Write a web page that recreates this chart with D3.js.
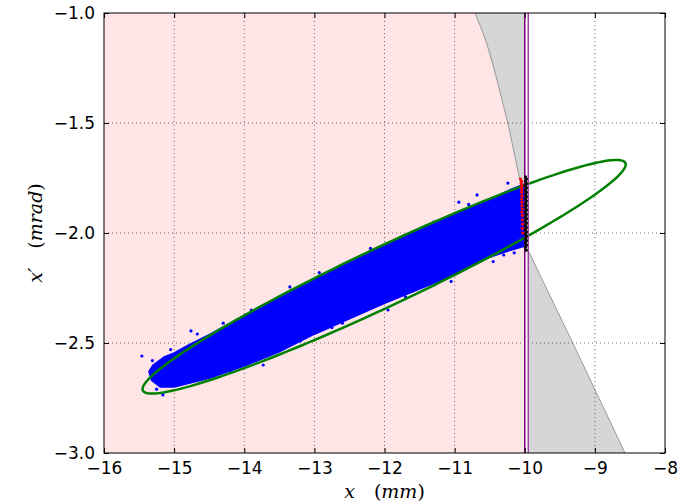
<!DOCTYPE html>
<html>
<head>
<meta charset="utf-8">
<script src="https://cdn.jsdelivr.net/npm/d3@7/dist/d3.min.js"></script>
<style>
  body { margin: 0; background: #fff; }
  text { font-family: "DejaVu Sans", sans-serif; }
</style>
</head>
<body>
<div id="chart"></div>
<script>
// axis ticks
const xTicks = [-16, -15, -14, -13, -12, -11, -10, -9, -8];
const yTicks = [-3.0, -2.5, -2.0, -1.5, -1.0];

// septum wires (mm)
const septumEdges = [-10.0, -9.95];

// outline of the dense beam cloud (x mm, x' mrad)
const cloudOutline = [
  [-15.30, -2.600], [-15.15, -2.565], [-15.00, -2.545], [-14.80, -2.510], [-14.50, -2.462],
  [-14.00, -2.375], [-13.50, -2.292], [-13.00, -2.212], [-12.50, -2.132], [-12.00, -2.057],
  [-11.50, -1.982], [-11.00, -1.912], [-10.50, -1.847], [-10.20, -1.802], [-10.01, -1.778],
  [-10.01, -2.060], [-10.20, -2.078], [-10.50, -2.110], [-11.00, -2.190], [-11.50, -2.255],
  [-12.00, -2.320], [-12.50, -2.390], [-13.00, -2.460], [-13.50, -2.540], [-14.00, -2.605],
  [-14.50, -2.660], [-15.00, -2.700], [-15.20, -2.700], [-15.32, -2.670], [-15.36, -2.630]
];

// stray particles outside the dense cloud
const outliers = [
  [-15.46, -2.559], [-15.31, -2.58], [-14.76, -2.445], [-14.67, -2.459], [-15.16, -2.736],
  [-13.35, -2.245], [-12.93, -2.18], [-11.95, -2.35], [-10.24, -1.773], [-10.68, -1.827],
  [-10.94, -1.86], [-13.73, -2.60], [-11.05, -2.22], [-10.45, -2.13], [-12.6, -2.41],
  [-14.3, -2.41], [-13.9, -2.35], [-12.2, -2.07], [-11.3, -1.95], [-10.8, -1.87],
  [-14.2, -2.63], [-13.2, -2.49], [-11.7, -2.29], [-10.3, -2.10], [-10.15, -2.09],
  [-15.25, -2.71], [-15.05, -2.53], [-12.75, -2.43]
];

// particles scattered by the septum (red) and absorbed in it (black)
const lostRed = [
  [-10.06, -1.755], [-10.045, -1.765], [-10.05, -1.775], [-10.04, -1.785], [-10.045, -1.795],
  [-10.04, -1.805], [-10.045, -1.815], [-10.04, -1.83], [-10.045, -1.845], [-10.04, -1.86],
  [-10.04, -1.875], [-10.035, -1.89], [-10.04, -1.905], [-10.035, -1.92], [-10.035, -1.94],
  [-10.03, -1.96], [-10.035, -1.98], [-10.03, -2.0]
];
const lostBlack = [
  [-9.99, -1.745], [-9.975, -1.755], [-9.99, -1.765], [-9.975, -1.775], [-9.99, -1.785],
  [-9.975, -1.795], [-9.99, -1.805], [-9.975, -1.815], [-9.99, -1.825], [-9.975, -1.835],
  [-9.99, -1.845], [-9.975, -1.855], [-9.99, -1.865], [-9.975, -1.875], [-9.99, -1.885],
  [-9.975, -1.895], [-9.99, -1.905], [-9.975, -1.915], [-9.99, -1.925], [-9.975, -1.935],
  [-9.99, -1.945], [-9.975, -1.955], [-9.99, -1.965], [-9.975, -1.975], [-9.99, -1.985],
  [-9.975, -1.995], [-9.99, -2.005], [-9.975, -2.015], [-9.99, -2.025], [-9.975, -2.035],
  [-9.99, -2.045], [-9.975, -2.055], [-9.99, -2.065], [-9.98, -2.078]
];

// acceptance boundary (grey shadow) above and below the septum crossing
const shadowUpper = [
  [-10.71, -1.0], [-10.595, -1.091], [-10.324, -1.395], [-10.21, -1.545],
  [-10.11, -1.70], [-10.068, -1.76], [-10.0, -2.03]
];
const shadowLower = [
  [-9.954, -2.077], [-9.30, -2.51], [-8.57, -3.0]
];

// green emittance ellipse: centre, half-extent in x and x', skew phase
const ellipseCentre = [-12.005, -2.199];
const ellipseHalf = [3.445, 0.531];
const ellipseSkew = 0.28;

let margin = { top: 13, right: 27, bottom: 51, left: 104 },
    width = 692 - margin.left - margin.right,
    height = 504 - margin.top - margin.bottom;

let svg = d3.select("#chart").append("svg")
    .attr("width", 692)
    .attr("height", 504)
    .append("g")
    .attr("transform", "translate(" + margin.left + "," + margin.top + ")");

let xScale = d3.scaleLinear().domain([-16, -8]).range([0, width]);
let yScale = d3.scaleLinear().domain([-3, -1]).range([height, 0]);

svg.append("defs").append("clipPath").attr("id", "plotclip")
    .append("rect").attr("width", width).attr("height", height);

let plot = svg.append("g").attr("clip-path", "url(#plotclip)");

// pink region left of the septum
plot.append("rect")
    .attr("x", 0).attr("y", 0)
    .attr("width", xScale(septumEdges[0]))
    .attr("height", height)
    .attr("fill", "#ffe5e5");

// grey shadows
let line = d3.line().x(d => xScale(d[0])).y(d => yScale(d[1]));
let upperPoly = shadowUpper.concat([[septumEdges[0], shadowUpper[shadowUpper.length - 1][1]], [septumEdges[0], -1.0]]);
let lowerPoly = shadowLower.concat([[septumEdges[1], -3.0]]);
[upperPoly, lowerPoly].forEach(p => {
    plot.append("path").attr("d", line(p) + "Z").attr("fill", "#d6d6d6").attr("stroke", "none");
});
let curve = d3.line().x(d => xScale(d[0])).y(d => yScale(d[1])).curve(d3.curveMonotoneY);
[shadowUpper, shadowLower].forEach(p => {
    plot.append("path").attr("d", curve(p)).attr("fill", "none")
        .attr("stroke", "#9a9a9a").attr("stroke-width", 1);
});

// grid
xTicks.slice(1, -1).forEach(t => {
    plot.append("line")
        .attr("x1", xScale(t)).attr("x2", xScale(t))
        .attr("y1", 0).attr("y2", height)
        .attr("stroke", "#444").attr("stroke-width", 0.8)
        .attr("stroke-dasharray", "1,3");
});
yTicks.slice(1, -1).forEach(t => {
    plot.append("line")
        .attr("x1", 0).attr("x2", width)
        .attr("y1", yScale(t)).attr("y2", yScale(t))
        .attr("stroke", "#444").attr("stroke-width", 0.8)
        .attr("stroke-dasharray", "1,3");
});

// beam cloud
plot.append("path")
    .attr("d", line(cloudOutline) + "Z")
    .attr("fill", "#0000ff").attr("stroke", "#0000ff").attr("stroke-width", 1.5)
    .attr("stroke-linejoin", "round");

plot.selectAll(".outlier").data(outliers).enter().append("circle")
    .attr("class", "outlier")
    .attr("cx", d => xScale(d[0])).attr("cy", d => yScale(d[1]))
    .attr("r", 1.6).attr("fill", "#0000ff");

// ellipse
let ellipsePts = d3.range(0, 361, 2).map(a => {
    let t = a * Math.PI / 180;
    return [ellipseCentre[0] + ellipseHalf[0] * Math.cos(t),
            ellipseCentre[1] + ellipseHalf[1] * Math.cos(t - ellipseSkew)];
});
plot.append("path")
    .attr("d", line(ellipsePts) + "Z")
    .attr("fill", "none").attr("stroke", "#008000").attr("stroke-width", 2.5);

// lost particles (red, scattered)
plot.selectAll(".red").data(lostRed).enter().append("circle")
    .attr("cx", d => xScale(d[0])).attr("cy", d => yScale(d[1]))
    .attr("r", 1.6).attr("fill", "#ff0000");

// septum lines
plot.append("line")
    .attr("x1", xScale(septumEdges[0])).attr("x2", xScale(septumEdges[0]))
    .attr("y1", 0).attr("y2", height)
    .attr("stroke", "#800080").attr("stroke-width", 1.5);
plot.append("line")
    .attr("x1", xScale(septumEdges[1])).attr("x2", xScale(septumEdges[1]))
    .attr("y1", 0).attr("y2", height)
    .attr("stroke", "#a040a0").attr("stroke-width", 1.5);

// absorbed particles on top of the septum
plot.selectAll(".black").data(lostBlack).enter().append("circle")
    .attr("cx", d => xScale(d[0])).attr("cy", d => yScale(d[1]))
    .attr("r", 1.6).attr("fill", "#000");

// frame
svg.append("rect")
    .attr("width", width).attr("height", height)
    .attr("fill", "none").attr("stroke", "#000").attr("stroke-width", 1);

// axes (ticks inward, on all four sides)
let fmtY = d3.format(".1f");
let minus = s => s.replace("-", "\u2212");
svg.append("g")
    .attr("transform", "translate(0," + height + ")")
    .call(d3.axisBottom(xScale).tickValues(xTicks).tickSizeInner(-5).tickSizeOuter(0).tickPadding(9)
        .tickFormat(d => minus(String(d))));
svg.append("g")
    .call(d3.axisLeft(yScale).tickValues(yTicks).tickSizeInner(-5).tickSizeOuter(0).tickPadding(9)
        .tickFormat(d => minus(fmtY(d))));
svg.append("g").attr("transform", "translate(" + width + ",0)")
    .call(d3.axisRight(yScale).tickValues(yTicks).tickSizeInner(-5).tickSizeOuter(0).tickFormat(""));
svg.append("g")
    .call(d3.axisTop(xScale).tickValues(xTicks).tickSizeInner(-5).tickSizeOuter(0).tickFormat(""));

svg.selectAll(".domain").remove();
svg.selectAll(".tick line").attr("stroke", "#000");
svg.selectAll(".tick text")
    .attr("fill", "#000")
    .style("font-family", "'DejaVu Sans', sans-serif")
    .style("font-size", "17px");

// axis labels
svg.append("text")
    .attr("x", width / 2).attr("y", height + 45)
    .attr("text-anchor", "middle")
    .style("font-family", "'DejaVu Serif', serif")
    .style("font-size", "19px")
    .html("<tspan font-style='italic'>x</tspan>\u2003(<tspan font-style='italic'>mm</tspan>)");

svg.append("text")
    .attr("transform", "translate(" + (-62) + "," + (height / 2) + ") rotate(-90)")
    .attr("text-anchor", "middle")
    .style("font-family", "'DejaVu Serif', serif")
    .style("font-size", "19px")
    .html("<tspan font-style='italic'>x\u2032</tspan>\u2003(<tspan font-style='italic'>mrad</tspan>)");
</script>
</body>
</html>
